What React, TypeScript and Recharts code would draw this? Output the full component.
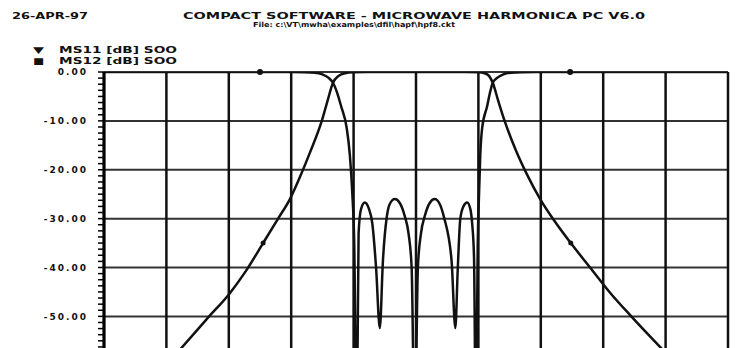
import React from 'react';
import { LineChart, Line, XAxis, YAxis, CartesianGrid, ReferenceDot } from 'recharts';

// Frequency in grid divisions (10 divisions across the plot)
const FREQ_TICKS = [0, 1, 2, 3, 4, 5, 6, 7, 8, 9, 10];
const DB_MAJOR = [0, -10, -20, -30, -40, -50, -60, -70, -80];
const DB_MINOR_STEP = 1.25;
const DB_LOWEST_LABEL = -50;

// MS12 (transmission) trace
const S12_FREQ = [0, 0.5, 1.0, 1.17, 1.65, 2.02, 2.27, 2.55, 2.79, 2.98, 3.14, 3.3, 3.49, 3.58, 3.67, 3.76, 3.86, 4.0, 4.2, 4.5, 5.0, 5.5, 5.8, 6.0, 6.1, 6.17, 6.23, 6.32, 6.42, 6.6, 6.78, 6.99, 7.22, 7.48, 7.79, 8.1, 8.45, 8.99, 9.5, 10];
const S12_DB = [-74, -67, -60, -57.5, -50.5, -45.2, -40.8, -35, -30, -26, -21.5, -16.5, -10, -6, -2.2, -0.8, -0.25, -0.05, 0, 0, 0, 0, 0, -0.05, -0.25, -0.8, -2.2, -6, -10, -16, -21, -26, -30.5, -35, -40, -45, -50, -57.3, -64, -70];

// MS11 (return loss) trace
const S11_FREQ = [0, 2.5, 3.0, 3.2, 3.38, 3.5, 3.6, 3.67, 3.73, 3.8, 3.89, 3.94, 3.98, 4.01, 4.05,
  4.08, 4.12, 4.18, 4.24, 4.30, 4.36, 4.42,
  4.47, 4.53, 4.58, 4.66, 4.74, 4.82, 4.88, 4.93, 4.98,
  5.03, 5.08, 5.14, 5.22, 5.30, 5.38, 5.45, 5.57, 5.63,
  5.67, 5.71, 5.76, 5.82, 5.87, 5.90, 5.93, 5.96,
  5.99, 6.01, 6.03, 6.06, 6.14, 6.19, 6.23, 6.3, 6.4, 6.52, 6.7, 7.0, 7.47, 10];
const S11_DB = [0, 0, -0.02, -0.05, -0.15, -0.5, -1.2, -2.2, -4, -7, -11.5, -17, -25, -35, -75,
  -33, -28, -26.7, -27.8, -31, -40, -52.4,
  -38.6, -29.8, -27, -26, -26.8, -29.5, -33, -40, -75,
  -40, -33, -29.5, -26.8, -26, -27, -29.8, -38.6, -52.4,
  -40, -30, -27.5, -26.7, -28, -31, -38, -75,
  -35, -25, -17, -11.5, -7, -4, -2.2, -1.2, -0.5, -0.15, -0.05, -0.02, 0, 0];

// Trace markers
const MARK_S11 = [{ x: 2.5, y: 0 }, { x: 7.47, y: 0 }];
const MARK_S12 = [{ x: 2.55, y: -35 }, { x: 7.48, y: -35 }];

const TITLE = 'COMPACT SOFTWARE - MICROWAVE HARMONICA PC V6.0';
const SUBTITLE = 'File: c:\\VT\\mwha\\examples\\dfil\\hapf\\hpf8.ckt';
const DATE = '26-APR-97';
const LEGEND = ['MS11 [dB] SOO', 'MS12 [dB] SOO'];
const LEGEND_SYMBOLS = ['\u25BC', '\u25A0'];

const s11Data = S11_FREQ.map((x, i) => ({ x, db: S11_DB[i] }));
const s12Data = S12_FREQ.map((x, i) => ({ x, db: S12_DB[i] }));

const yTicks: number[] = [];
for (let v = 0; v >= -80; v -= DB_MINOR_STEP) yTicks.push(v);

const FONT = '"DejaVu Sans", sans-serif';
const INK = '#111';

const YTick = (props: any) => {
  const { x, y, payload } = props;
  const v = payload.value as number;
  if (Math.abs(v % 10) > 1e-6 || v < DB_LOWEST_LABEL) return <g />;
  const label = v === 0 ? '0.00' : v.toFixed(2);
  return (
    <text x={x} y={y} dy="0.35em" textAnchor="end" fontFamily={FONT} fontWeight="bold"
      fontSize={9} letterSpacing={2} fill={INK}>
      {label}
    </text>
  );
};

export default function App() {
  return (
    <div style={{ position: 'relative', width: 733, height: 340, overflow: 'hidden', background: '#fff' }}>
      <LineChart width={733} height={470} margin={{ top: 64, right: 13, bottom: 15, left: 36 }}>
        <CartesianGrid horizontal={true} vertical={false} horizontalValues={DB_MAJOR}
          stroke="#333" strokeWidth={2} />
        <CartesianGrid horizontal={false} vertical={true} verticalValues={FREQ_TICKS}
          stroke={INK} strokeWidth={2.5} />
        <XAxis type="number" dataKey="x" domain={[0, 10]} ticks={FREQ_TICKS} hide allowDataOverflow />
        <YAxis type="number" domain={[-80, 0]} ticks={yTicks} interval={0} width={60}
          allowDataOverflow tickSize={6} tickMargin={10}
          axisLine={{ stroke: '#000', strokeWidth: 3 }}
          tickLine={{ stroke: '#000', strokeWidth: 1.5 }}
          tick={<YTick />} />
        <Line data={s12Data} dataKey="db" type="monotone" stroke={INK} strokeWidth={2.5}
          dot={false} isAnimationActive={false} strokeLinejoin="round" />
        <Line data={s11Data} dataKey="db" type="monotone" stroke={INK} strokeWidth={2.5}
          dot={false} isAnimationActive={false} strokeLinejoin="round" />
        {MARK_S11.map((m, i) => (
          <ReferenceDot key={'a' + i} x={m.x} y={m.y} r={3} fill={INK} stroke="none" />
        ))}
        {MARK_S12.map((m, i) => (
          <ReferenceDot key={'b' + i} x={m.x} y={m.y} r={2.5} fill={INK} stroke="none" />
        ))}
      </LineChart>
      <svg width={733} height={62} style={{ position: 'absolute', left: 0, top: 0 }}>
        <text x={4} y={10.5} fontFamily={FONT} fontWeight="bold" fontSize={8} fill={INK}
          textLength={76} lengthAdjust="spacingAndGlyphs">{DATE}</text>
        <text x={175} y={10.5} fontFamily={FONT} fontWeight="bold" fontSize={8} fill={INK}
          textLength={462} lengthAdjust="spacingAndGlyphs">{TITLE}</text>
        <text x={245} y={19} fontFamily={FONT} fontWeight="bold" fontSize={7} fill={INK}
          textLength={202} lengthAdjust="spacingAndGlyphs">{SUBTITLE}</text>
        {LEGEND.map((t, i) => (
          <g key={t}>
            <text x={25} y={45 + i * 10.5} fontFamily={FONT} fontWeight="bold" fontSize={9} fill={INK}
              textLength={11} lengthAdjust="spacingAndGlyphs">
              {LEGEND_SYMBOLS[i]}
            </text>
            <text x={51} y={45 + i * 10.5} fontFamily={FONT} fontWeight="bold" fontSize={8} fill={INK}
              textLength={118} lengthAdjust="spacingAndGlyphs">{t}</text>
          </g>
        ))}
      </svg>
    </div>
  );
}
